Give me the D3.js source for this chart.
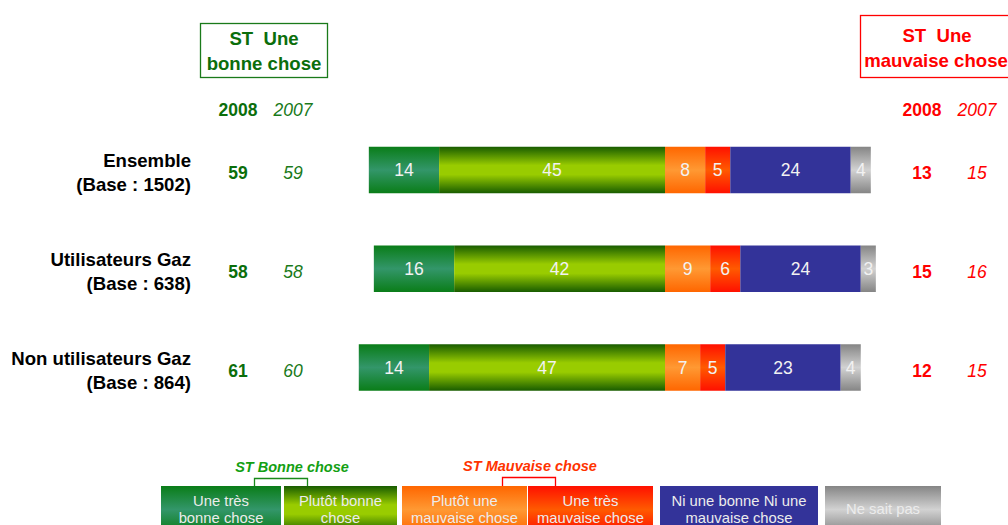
<!DOCTYPE html>
<html>
<head>
<meta charset="utf-8">
<script src="https://cdn.jsdelivr.net/npm/d3@7"></script>
<style>
html,body{margin:0;padding:0;background:#fff;overflow:hidden;}
svg{display:block;font-family:"Liberation Sans",Arial,Helvetica,sans-serif;}
</style>
</head>
<body>
<svg id="chart" width="1008" height="525"></svg>
<script>
// ---- data ----
const categories = ["Ensemble", "Utilisateurs Gaz", "Non utilisateurs Gaz"];
const bases = ["(Base : 1502)", "(Base : 638)", "(Base : 864)"];
const tresBonne = [14, 16, 14];
const plutotBonne = [45, 42, 47];
const plutotMauvaise = [8, 9, 7];
const tresMauvaise = [5, 6, 5];
const niNi = [24, 24, 23];
const nsp = [4, 3, 4];
const stBonne2008 = [59, 58, 61];
const stBonne2007 = [59, 58, 60];
const stMauvaise2008 = [13, 15, 12];
const stMauvaise2007 = [15, 16, 15];
const seriesNames = ["Une très|bonne chose", "Plutôt bonne|chose", "Plutôt une|mauvaise chose", "Une très|mauvaise chose", "Ni une bonne Ni une|mauvaise chose", "Ne sait pas"];
const yearLabels = ["2008", "2007"];

// ---- setup ----
const svg = d3.select("#chart");
const defs = svg.append("defs");
function grad(id, stops) {
  const g = defs.append("linearGradient").attr("id", id)
    .attr("x1", 0).attr("y1", 0).attr("x2", 0).attr("y2", 1);
  stops.forEach(s => g.append("stop").attr("offset", s[0]).attr("stop-color", s[1]));
}
grad("g0", [[0, "#0a7d18"], [0.5, "#33966a"], [1, "#0a7d18"]]);
grad("g1", [[0, "#185c00"], [0.4, "#99cc00"], [0.6, "#99cc00"], [1, "#185c00"]]);
grad("g2", [[0, "#ff6600"], [0.5, "#ff9933"], [1, "#ff6600"]]);
grad("g3", [[0, "#ff1000"], [0.5, "#ff5a00"], [1, "#ff1000"]]);
grad("g4", [[0, "#333399"], [1, "#333399"]]);
grad("g5", [[0, "#858585"], [0.5, "#d2d2d2"], [1, "#858585"]]);
const fills = ["url(#g0)", "url(#g1)", "url(#g2)", "url(#g3)", "url(#g4)", "url(#g5)"];

const x = d3.scaleLinear().domain([-100, 100]).range([665 - 502, 665 + 502]);
const y = d3.scalePoint().domain(categories).range([170, 367.5]);
const barH = 46.5;

const green = "#0b6e0b", greenI = "#1a7a1a", red = "#ff0000";

// ---- bars ----
categories.forEach((cat, i) => {
  const vals = [tresBonne[i], plutotBonne[i], plutotMauvaise[i], tresMauvaise[i], niNi[i], nsp[i]];
  const segs = [];
  let start = -(vals[0] + vals[1]);
  vals.forEach((v, k) => { segs.push({v, k, a: start, b: start + v}); start += v; });
  const cy = y(cat);
  const g = svg.append("g");
  g.selectAll("rect").data(segs).join("rect")
    .attr("x", d => x(d.a)).attr("width", d => x(d.b) - x(d.a))
    .attr("y", cy - barH / 2).attr("height", barH)
    .attr("fill", d => fills[d.k]);
  g.selectAll("text").data(segs).join("text")
    .attr("x", d => (x(d.a) + x(d.b)) / 2).attr("y", cy + 6)
    .attr("text-anchor", "middle").attr("font-size", 17.5)
    .attr("fill", "#f2f2f2").text(d => d.v);

  svg.append("text").attr("x", 191).attr("y", cy - 3).attr("text-anchor", "end")
    .attr("font-size", 18.6).attr("font-weight", "bold").attr("fill", "#000").text(cat);
  svg.append("text").attr("x", 191).attr("y", cy + 21).attr("text-anchor", "end")
    .attr("font-size", 18.6).attr("font-weight", "bold").attr("fill", "#000").text(bases[i]);

  svg.append("text").attr("x", 238).attr("y", cy + 9).attr("text-anchor", "middle")
    .attr("font-size", 17.5).attr("font-weight", "bold").attr("fill", green).text(stBonne2008[i]);
  svg.append("text").attr("x", 293).attr("y", cy + 9).attr("text-anchor", "middle")
    .attr("font-size", 17.5).attr("font-style", "italic").attr("fill", greenI).text(stBonne2007[i]);
  svg.append("text").attr("x", 922).attr("y", cy + 9).attr("text-anchor", "middle")
    .attr("font-size", 17.5).attr("font-weight", "bold").attr("fill", red).text(stMauvaise2008[i]);
  svg.append("text").attr("x", 977).attr("y", cy + 9).attr("text-anchor", "middle")
    .attr("font-size", 17.5).attr("font-style", "italic").attr("fill", red).text(stMauvaise2007[i]);
});

// ---- header boxes ----
svg.append("rect").attr("x", 200.5).attr("y", 23.5).attr("width", 127).attr("height", 54)
  .attr("fill", "none").attr("stroke", "#1a7a1a").attr("stroke-width", 1.3);
svg.append("text").attr("x", 264).attr("y", 45).attr("text-anchor", "middle")
  .attr("font-size", 18.6).attr("font-weight", "bold").attr("fill", green).attr("xml:space", "preserve").text("ST  Une");
svg.append("text").attr("x", 264).attr("y", 70).attr("text-anchor", "middle")
  .attr("font-size", 18.6).attr("font-weight", "bold").attr("fill", green).text("bonne chose");

svg.append("rect").attr("x", 860.5).attr("y", 15.5).attr("width", 160).attr("height", 62)
  .attr("fill", "none").attr("stroke", "#ff0000").attr("stroke-width", 1.3);
svg.append("text").attr("x", 937).attr("y", 42).attr("text-anchor", "middle")
  .attr("font-size", 18.6).attr("font-weight", "bold").attr("fill", red).attr("xml:space", "preserve").text("ST  Une");
svg.append("text").attr("x", 936).attr("y", 67).attr("text-anchor", "middle")
  .attr("font-size", 18.6).attr("font-weight", "bold").attr("fill", red).text("mauvaise chose");

svg.append("text").attr("x", 238).attr("y", 116).attr("text-anchor", "middle")
  .attr("font-size", 17.5).attr("font-weight", "bold").attr("fill", green).text(yearLabels[0]);
svg.append("text").attr("x", 293).attr("y", 116).attr("text-anchor", "middle")
  .attr("font-size", 17.5).attr("font-style", "italic").attr("fill", greenI).text(yearLabels[1]);
svg.append("text").attr("x", 922).attr("y", 116).attr("text-anchor", "middle")
  .attr("font-size", 17.5).attr("font-weight", "bold").attr("fill", red).text(yearLabels[0]);
svg.append("text").attr("x", 977).attr("y", 116).attr("text-anchor", "middle")
  .attr("font-size", 17.5).attr("font-style", "italic").attr("fill", red).text(yearLabels[1]);

// ---- legend ----
const legendBoxes = [[161, 281], [284, 397], [402, 527], [528, 653], [660, 818], [825, 941]];
const lg = svg.append("g");
seriesNames.forEach((name, k) => {
  const [a, b] = legendBoxes[k];
  lg.append("rect").attr("x", a).attr("y", 486).attr("width", b - a).attr("height", 47).attr("fill", fills[k]);
  const lines = name.split("|");
  const cx = (a + b) / 2;
  if (lines.length === 1) {
    lg.append("text").attr("x", cx).attr("y", 514).attr("text-anchor", "middle")
      .attr("font-size", 14.8).attr("fill", "#ececec").text(lines[0]);
  } else {
    lines.forEach((l, j) => lg.append("text").attr("x", cx).attr("y", 506 + j * 17).attr("text-anchor", "middle")
      .attr("font-size", 14.8).attr("fill", "#ececec").text(l));
  }
});
lg.append("path").attr("d", "M254.5,486V478.5H307.5V486").attr("fill", "none").attr("stroke", "#1a8a1a").attr("stroke-width", 1.3);
lg.append("path").attr("d", "M502.5,486V477.5H555.5V486").attr("fill", "none").attr("stroke", "#ff0000").attr("stroke-width", 1.3);
lg.append("text").attr("x", 292).attr("y", 472).attr("text-anchor", "middle")
  .attr("font-size", 14.5).attr("font-weight", "bold").attr("font-style", "italic").attr("fill", "#13a013").text("ST Bonne chose");
lg.append("text").attr("x", 530).attr("y", 471).attr("text-anchor", "middle")
  .attr("font-size", 14.5).attr("font-weight", "bold").attr("font-style", "italic").attr("fill", "#ff3300").text("ST Mauvaise chose");
</script>
</body>
</html>
